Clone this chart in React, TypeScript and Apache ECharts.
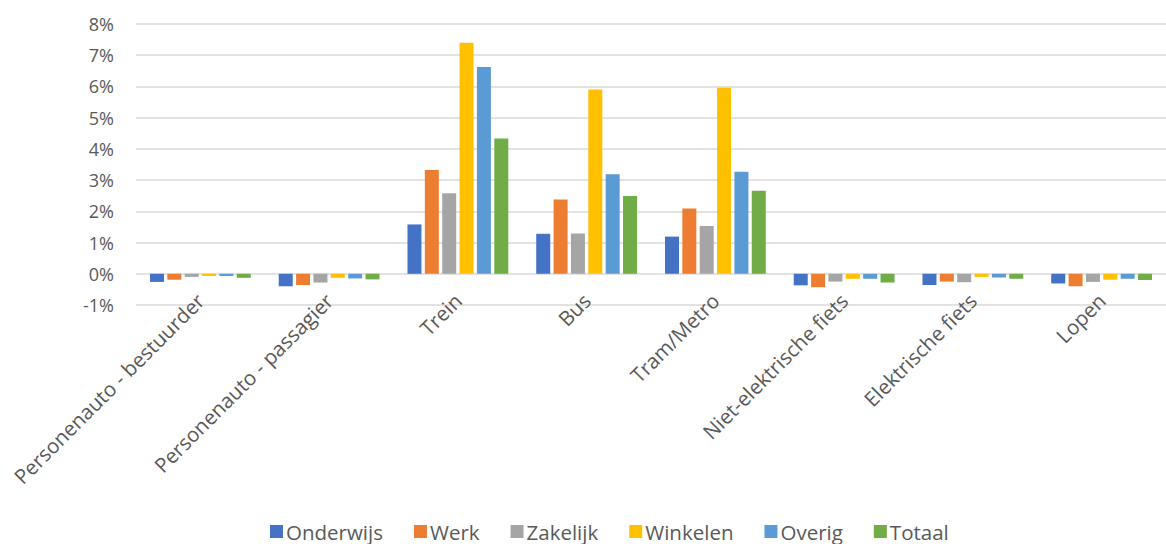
import React, { useEffect, useRef } from "react";
import * as echarts from "echarts";

const categories = [
  "Personenauto - bestuurder",
  "Personenauto - passagier",
  "Trein",
  "Bus",
  "Tram/Metro",
  "Niet-elektrische fiets",
  "Elektrische fiets",
  "Lopen",
];
const seriesNames = ["Onderwijs", "Werk", "Zakelijk", "Winkelen", "Overig", "Totaal"];
const colors = ["#4472C4", "#ED7D31", "#A5A5A5", "#FFC000", "#5B9BD5", "#70AD47"];

const onderwijs = [-0.26, -0.4, 1.58, 1.28, 1.19, -0.37, -0.36, -0.31];
const werk = [-0.19, -0.36, 3.32, 2.38, 2.09, -0.43, -0.25, -0.4];
const zakelijk = [-0.1, -0.28, 2.58, 1.29, 1.53, -0.25, -0.27, -0.26];
const winkelen = [-0.07, -0.13, 7.4, 5.9, 5.96, -0.16, -0.1, -0.19];
const overig = [-0.07, -0.15, 6.62, 3.19, 3.27, -0.16, -0.12, -0.16];
const totaal = [-0.13, -0.18, 4.33, 2.49, 2.66, -0.28, -0.16, -0.2];
const allSeries = [onderwijs, werk, zakelijk, winkelen, overig, totaal];

const yTicks = { min: -1, max: 8, interval: 1 };

export default function App() {
  const ref = useRef<HTMLDivElement>(null);
  useEffect(() => {
    if (!ref.current) return;
    const chart = echarts.init(ref.current, null, { renderer: "svg" });
    const font = "'Open Sans', 'Noto Sans', sans-serif";
    chart.setOption({
      animation: false,
      textStyle: { fontFamily: font },
      grid: { left: 136, right: -13, top: 24, bottom: 239, containLabel: false },
      legend: {
        bottom: -3,
        left: 265,
        itemWidth: 13,
        itemHeight: 13,
        itemGap: 31,
        icon: "rect",
        textStyle: { fontSize: 20.5, color: "#595959", fontFamily: font, padding: [0, 0, 0, -2] },
        data: seriesNames,
      },
      xAxis: {
        type: "category",
        data: categories,
        axisLine: { show: false },
        axisTick: { show: false },
        axisLabel: {
          rotate: 45,
          fontSize: 20.5,
          color: "#595959",
          fontFamily: font,
          interval: 0,
          margin: -8,
        },
      },
      yAxis: {
        type: "value",
        min: yTicks.min,
        max: yTicks.max,
        interval: yTicks.interval,
        axisLine: { show: false },
        axisTick: { show: false },
        axisLabel: {
          formatter: "{value}%",
          fontSize: 18,
          color: "#595959",
          fontFamily: font,
          margin: 22,
        },
        splitLine: { lineStyle: { color: "#d9d9d9", width: 1.5 } },
      },
      series: seriesNames.map((name, i) => ({
        name,
        type: "bar",
        data: allSeries[i],
        barWidth: 14,
        barGap: "24%",
        itemStyle: { color: colors[i] },
      })),
    });
    return () => chart.dispose();
  }, []);
  return (
    <div
      ref={ref}
      style={{ position: "absolute", left: 0, top: 0, width: 1166, height: 544, background: "#fff" }}
    />
  );
}
